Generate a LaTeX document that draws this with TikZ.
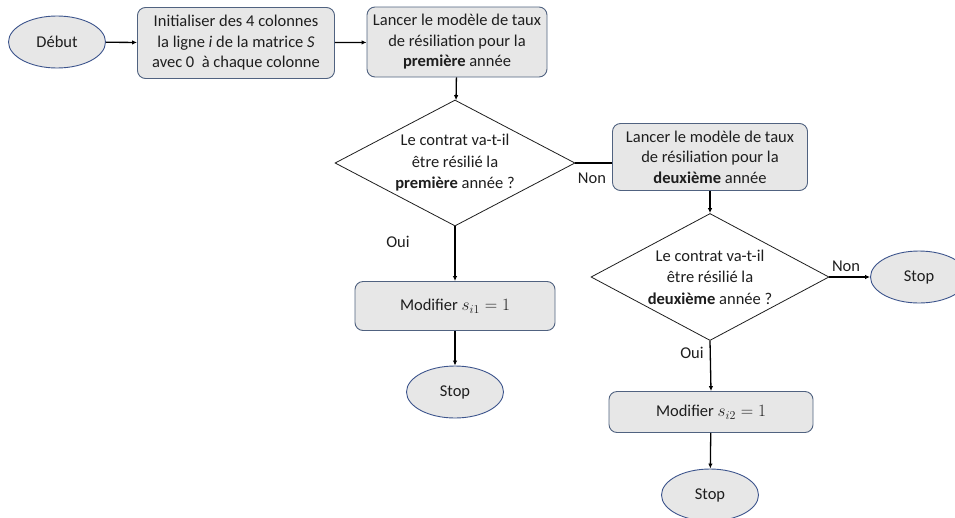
\documentclass[tikz,border=0pt]{standalone}
\usepackage{fontspec}
\setmainfont{Carlito}
\usetikzlibrary{shapes.geometric,arrows.meta}
\definecolor{boxfill}{RGB}{231,231,231}
\definecolor{boxline}{RGB}{80,98,128}
\definecolor{ovalline}{RGB}{60,84,140}
\definecolor{inkc}{RGB}{30,30,30}
\tikzset{
  base/.style={font=\fontsize{16.5}{20.5}\selectfont, text=inkc, align=center},
  procbox/.style={base, draw=boxline, fill=boxfill, line width=0.9pt, rounded corners=8pt, inner sep=0pt},
  oval/.style={base, ellipse, draw=ovalline, fill=boxfill, line width=0.9pt, minimum width=97pt, minimum height=52pt, inner sep=0pt},
  decision/.style={base, font=\fontsize{16.5}{21.5}\selectfont, diamond, draw=inkc, fill=white, line width=0.8pt, aspect=1.9, inner sep=-12pt, minimum width=240pt, minimum height=126pt},
  flow/.style={draw=black, line width=1.3pt, -{Latex[length=5pt,width=4.5pt]}},
  plain/.style={draw=black, line width=1.3pt},
  lbl/.style={base}
}
\begin{document}
\begin{tikzpicture}[x=1pt,y=-1pt]
\useasboundingbox (0,0) rectangle (955,517);

% start and first steps
\node[oval] (debut) at (57,42) {Début};
\node[procbox, minimum width=197pt, minimum height=71pt] (init) at (236,43)
  {Initialiser des 4 colonnes\\la ligne \textit{i} de la matrice \textit{S}\\avec 0\ \ à chaque colonne};
\node[procbox, minimum width=180pt, minimum height=70pt] (run1) at (457,42)
  {Lancer le modèle de taux\\de résiliation pour la\\\textbf{première} année};

% first decision
\node[decision] (dec1) at (455,163)
  {Le contrat va-t-il\\être résilié la\\\textbf{première} année ?};
\node[procbox, minimum width=200pt, minimum height=49pt] (mod1) at (455,306)
  {Modifier $s_{i1} = 1$};
\node[oval] (stop1) at (455,392) {Stop};

% second year branch
\node[procbox, minimum width=195pt, minimum height=67pt] (run2) at (710,157)
  {Lancer le modèle de taux\\de résiliation pour la\\\textbf{deuxième} année};
\node[decision, minimum width=238pt, minimum height=127pt] (dec2) at (710,277)
  {Le contrat va-t-il\\être résilié la\\\textbf{deuxième} année ?};
\node[oval] (stop2) at (919,277) {Stop};
\node[procbox, minimum width=204pt, minimum height=41pt] (mod2) at (711,412)
  {Modifier $s_{i2} = 1$};
\node[oval] (stop3) at (710,495) {Stop};

% connectors
\draw[flow] (debut) -- (init);
\draw[flow] (init) -- (run1);
\draw[flow] (run1) -- (dec1);
\draw[plain] (dec1.east) -- (run2.west |- dec1.east);
\draw[flow] (dec1.south) -- (mod1.north);
\draw[flow] (mod1) -- (stop1);
\draw[flow] (run2) -- (dec2);
\draw[flow] (dec2.east) -- (stop2.west);
\draw[flow] (dec2.south) -- (mod2.north);
\draw[flow] (mod2) -- (stop3);

% branch labels
\node[lbl] (non1) at (592,178) {Non};
\node[lbl] (oui1) at (398,242) {Oui};
\node[lbl] (non2) at (846,266) {Non};
\node[lbl] (oui2) at (692,353) {Oui};
\end{tikzpicture}
\end{document}
